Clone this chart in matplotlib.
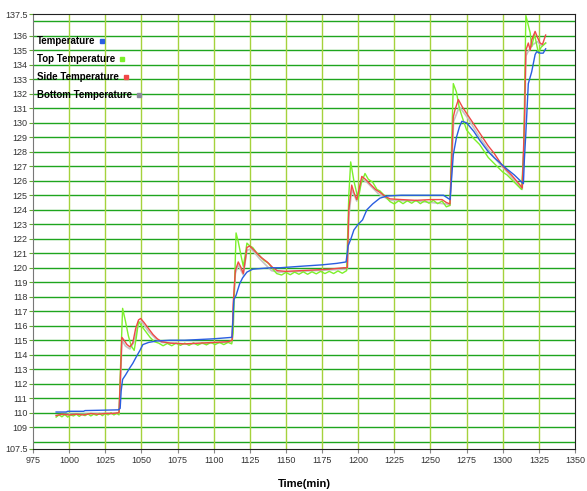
import matplotlib.pyplot as plt

plt.rcParams['font.family'] = ['Liberation Sans', 'DejaVu Sans']

# Temperature (blue)
t_temp = [991, 998, 999, 1010, 1011, 1034, 1035.3, 1036, 1037, 1039, 1042, 1044, 1046.7,
          1049, 1051, 1055, 1060.6, 1070, 1080, 1090, 1100, 1112.6, 1113.4, 1114, 1115.5,
          1118, 1120, 1123, 1127, 1133, 1140, 1146, 1160, 1175, 1185, 1191.6, 1192.4, 1193,
          1195, 1197, 1200, 1203, 1206, 1210, 1215, 1220, 1230, 1240, 1250, 1259, 1262,
          1263.6, 1264.5, 1265.8, 1268, 1270, 1271.7, 1275, 1280, 1284, 1290, 1294, 1303,
          1308, 1313.2, 1314.3, 1315, 1316, 1317.7, 1320, 1322.4, 1323.5, 1326, 1328, 1329.7]
v_temp = [110.05, 110.05, 110.1, 110.1, 110.15, 110.2, 110.3, 111.5, 112.3, 112.6, 113.1,
          113.4, 113.9, 114.3, 114.7, 114.85, 114.95, 115.0, 115.0, 115.05, 115.1, 115.2,
          116.5, 117.8, 118.1, 118.9, 119.3, 119.7, 119.9, 119.95, 120.0, 120.0, 120.1,
          120.2, 120.3, 120.4, 121.0, 121.5, 122.0, 122.6, 123.0, 123.3, 124.0, 124.4,
          124.8, 124.95, 125.0, 125.0, 125.0, 125.0, 124.8, 124.7, 126.0, 127.8, 129.0,
          129.7, 130.1, 130.0, 129.4, 128.8, 128.0, 127.6, 126.8, 126.4, 125.9, 125.8,
          127.5, 129.3, 132.7, 133.5, 134.7, 134.9, 134.8, 134.8, 135.1]

# Top Temperature (green)
t_top = [991, 993, 995, 997, 999, 1001, 1003, 1005, 1007, 1009, 1011, 1013, 1015, 1017,
         1019, 1021, 1023, 1025, 1027, 1029, 1031, 1033, 1034.5, 1035.5, 1037, 1039, 1041,
         1043, 1045, 1046.5, 1048, 1050, 1053, 1056, 1059, 1062, 1065, 1068, 1071, 1074,
         1077, 1080, 1083, 1086, 1089, 1092, 1095, 1098, 1101, 1104, 1107, 1110, 1112.5,
         1113.5, 1115.5, 1117, 1119, 1120.5, 1122, 1123, 1125, 1127, 1130, 1132, 1135, 1138,
         1141, 1143.6, 1147, 1150, 1153, 1156, 1159, 1162, 1165, 1168, 1171, 1174, 1177,
         1180, 1183, 1186, 1189, 1192, 1193.5, 1194.8, 1197, 1200, 1202, 1204.7, 1207, 1210,
         1213, 1215, 1218, 1222, 1225, 1228, 1231, 1234, 1237, 1240, 1243, 1246, 1249, 1252,
         1255, 1258, 1261, 1263.5, 1265.8, 1268, 1270, 1272.6, 1275, 1280, 1284, 1290, 1294,
         1300, 1303, 1308, 1313, 1314.5, 1316, 1319, 1320, 1322, 1324.7, 1326.5, 1329.7]
v_top = [109.7, 109.85, 109.72, 109.88, 109.7, 109.85, 109.78, 109.9, 109.75, 109.9, 109.8,
         109.92, 109.78, 109.9, 109.82, 109.95, 109.8, 109.95, 109.85, 110.0, 109.85, 109.97,
         109.85, 113.0, 117.2, 116.3, 115.3, 114.6, 114.3, 115.2, 116.3, 116.0, 115.6, 115.2,
         114.9, 114.8, 114.62, 114.78, 114.62, 114.8, 114.65, 114.8, 114.65, 114.82, 114.66,
         114.82, 114.68, 114.85, 114.7, 114.85, 114.7, 114.85, 114.75, 115.5, 122.4, 121.8,
         120.8, 120.1, 121.0, 121.7, 121.5, 121.4, 121.0, 120.8, 120.5, 120.3, 119.9, 119.6,
         119.5, 119.68, 119.52, 119.7, 119.55, 119.72, 119.55, 119.72, 119.58, 119.75,
         119.6, 119.75, 119.6, 119.78, 119.62, 119.8, 125.0, 127.3, 126.0, 124.7, 125.8,
         126.5, 126.1, 125.9, 125.4, 125.3, 125.0, 124.56, 124.4, 124.62, 124.42, 124.62,
         124.45, 124.65, 124.42, 124.62, 124.45, 124.65, 124.42, 124.6, 124.2, 124.3, 132.7,
         132.1, 131.0, 130.2, 129.5, 128.9, 128.5, 127.6, 127.2, 126.6, 126.4, 125.9, 125.4,
         128.0, 137.4, 136.2, 135.25, 136.1, 134.8, 135.2, 135.5]

# Side Temperature (red)
t_side = [991, 995, 1000, 1005, 1010, 1015, 1020, 1025, 1030, 1034.5, 1035.5, 1036.5, 1038,
          1040, 1042, 1044, 1046, 1048, 1049.5, 1052, 1055, 1058, 1061, 1064, 1070, 1080,
          1090, 1100, 1110, 1112.8, 1113.5, 1115, 1117, 1119, 1120.5, 1122, 1123, 1125, 1127,
          1130, 1133, 1137, 1141, 1144, 1150, 1160, 1170, 1180, 1190, 1192.5, 1193.5, 1195.5,
          1197, 1199, 1201, 1202.5, 1205, 1208, 1212, 1215, 1219, 1222, 1230, 1240, 1250,
          1258, 1261, 1263.5, 1264.5, 1265.8, 1267, 1269.3, 1272, 1275, 1280, 1284, 1290,
          1294, 1300, 1306, 1312, 1313.5, 1315, 1316, 1317.7, 1319, 1320, 1322.4, 1324,
          1325.8, 1327.5, 1329.7]
v_side = [109.8, 109.9, 109.85, 109.9, 109.85, 109.95, 109.9, 109.95, 109.95, 110.0, 112.5,
          115.2, 115.0, 114.7, 114.55, 114.8, 115.8, 116.4, 116.5, 116.2, 115.8, 115.4,
          115.1, 114.9, 114.8, 114.75, 114.8, 114.85, 114.9, 115.0, 117.5, 119.8, 120.4,
          120.0, 119.6, 120.6, 121.4, 121.5, 121.3, 121.0, 120.7, 120.4, 120.0, 119.8,
          119.75, 119.8, 119.85, 119.9, 120.0, 120.0, 124.0, 125.7, 125.2, 124.7, 125.6,
          126.3, 126.1, 125.8, 125.4, 125.2, 124.9, 124.75, 124.7, 124.65, 124.7, 124.7,
          124.5, 124.4, 127.0, 130.4, 130.9, 131.6, 131.1, 130.65, 129.9, 129.3, 128.4,
          127.9, 127.0, 126.4, 125.7, 125.5, 130.0, 135.0, 135.5, 135.0, 135.7, 136.3,
          135.9, 135.5, 135.4, 136.05]

# Bottom Temperature (gray)
t_bottom = [991, 1000, 1010, 1020, 1034.5, 1035.5, 1036.5, 1039, 1042, 1045, 1048, 1050,
            1055, 1060, 1064, 1080, 1100, 1112.8, 1113.5, 1115, 1117, 1120.5, 1123, 1126,
            1132, 1140, 1145, 1160, 1180, 1192.5, 1193.5, 1195.5, 1199, 1202.5, 1206, 1214,
            1222, 1240, 1261, 1263.5, 1264.5, 1266, 1270, 1276, 1284, 1294, 1304, 1313.5,
            1315, 1316, 1318, 1321, 1324, 1327, 1329.7]
v_bottom = [109.85, 109.9, 109.9, 109.95, 109.95, 112.0, 115.0, 114.6, 114.4, 114.9, 116.2,
            116.3, 115.6, 115.1, 114.85, 114.75, 114.8, 114.9, 117.0, 119.6, 120.2, 119.5,
            121.2, 121.3, 120.6, 119.8, 119.7, 119.75, 119.85, 119.9, 123.5, 125.4, 124.6,
            126.1, 125.9, 125.1, 124.65, 124.6, 124.4, 124.3, 126.5, 130.1, 131.1, 130.3,
            129.0, 127.6, 126.5, 125.4, 129.0, 134.6, 135.0, 135.4, 135.6, 135.3, 135.5]

series = [
    ("Temperature", t_temp, v_temp, "#2a5ee0"),
    ("Top Temperature", t_top, v_top, "#7cf02a"),
    ("Side Temperature", t_side, v_side, "#f04848"),
    ("Bottom Temperature", t_bottom, v_bottom, "#8c8c9c"),
]
y_ticks = [107.5] + list(range(109, 137)) + [137.5]
x_ticks = list(range(975, 1351, 25))

fig = plt.figure(figsize=(5.87, 4.91), dpi=100)
ax = fig.add_axes([33 / 587, 42 / 491, 542 / 587, 435 / 491])
ax.set_xlim(975, 1350)
ax.set_ylim(107.5, 137.5)

for y in range(108, 138):
    ax.axhline(y, color="#1ea51e", lw=1, zorder=1)
for x in x_ticks[1:-1]:
    ax.axvline(x, color="#a5d23c", lw=1, zorder=1)

ax.plot(t_bottom, v_bottom, color="#c4c4c4", lw=1.2, zorder=2)
ax.plot(t_top, v_top, color="#7cf02a", lw=1, zorder=3)
ax.plot(t_side, v_side, color="#f04848", lw=1, zorder=4)
ax.plot(t_temp, v_temp, color="#2a5ee0", lw=1, zorder=5)

ax.set_yticks(y_ticks)
ax.set_yticklabels([("%g" % v) for v in y_ticks])
ax.set_xticks(x_ticks)
ax.tick_params(axis="both", labelsize=6.5, colors="#333333", length=3)
ax.tick_params(axis="y", color="#66aa33", pad=1)
ax.tick_params(axis="x", color="#888888", pad=2)
for s in ["top", "right", "bottom"]:
    ax.spines[s].set_color("#222222")
ax.spines["left"].set_color("#777777")
ax.set_xlabel("Time(min)", fontsize=8, fontweight="bold", labelpad=10)

# legend: text with a small square marker right after it
fig.canvas.draw()
renderer = fig.canvas.get_renderer()
for i, (name, _, _, col) in enumerate(series):
    ypix = 491 - (41 + i * 18)
    txt = fig.text(37 / 587, ypix / 491, name, fontsize=7, fontweight="bold",
                   va="center", ha="left", zorder=10)
    bb = txt.get_window_extent(renderer)
    gap = [4, 5, 5, 5][i]
    fig.patches.append(plt.Rectangle(((bb.x1 + gap) / 587, (ypix - 2) / 491), 4 / 587, 4 / 491,
                                     transform=fig.transFigure, color=col, zorder=10))

fig.savefig("out.png", dpi=100)
